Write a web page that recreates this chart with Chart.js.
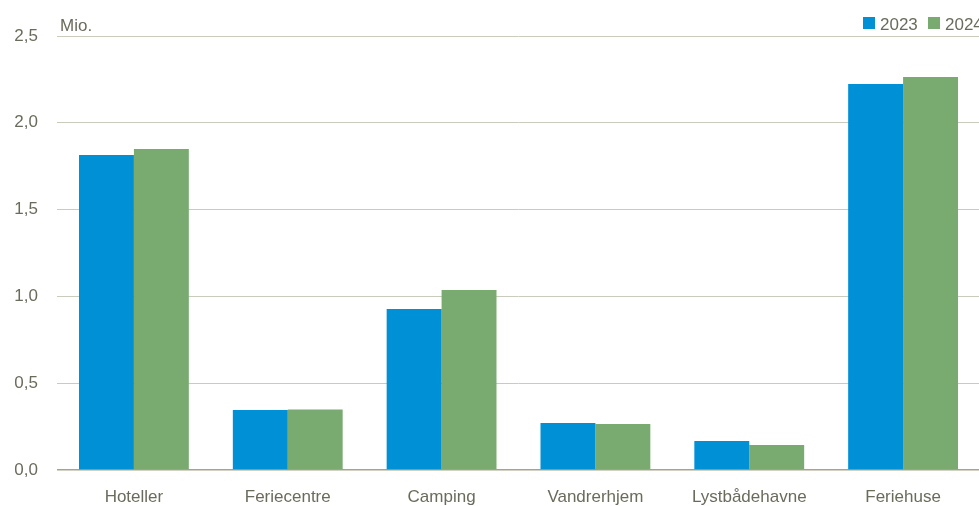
<!DOCTYPE html>
<html lang="da">
<head>
  <meta charset="UTF-8" />
  <title>Overnatninger</title>
  <script src="https://cdn.jsdelivr.net/npm/chart.js"></script>
  <style>
    html, body {
      margin: 0;
      padding: 0;
      background: #fff;
      overflow: hidden;
    }
    #wrap {
      width: 980px;
      height: 506px;
    }
  </style>
</head>
<body>
  <div id="wrap"><canvas id="chart"></canvas></div>

  <script>
    const categories = ["Hoteller", "Feriecentre", "Camping", "Vandrerhjem", "Lystbådehavne", "Feriehuse"];
    const values2023 = [1.815, 0.346, 0.927, 0.271, 0.167, 2.223];
    const values2024 = [1.849, 0.349, 1.037, 0.265, 0.144, 2.264];
    const seriesLabels = ["2023", "2024"];
    const unitLabel = "Mio.";

    const blue = "#0090d5";
    const green = "#79ab70";
    const textColor = "#6b6b5d";
    const fontFamily = "'Liberation Sans Narrow', 'Arial Narrow', 'Liberation Sans', Arial, sans-serif";

    // Unit label and legend drawn on top of the plot
    const extras = {
      id: "extras",
      afterDraw(chart) {
        const ctx = chart.ctx;
        const area = chart.chartArea;
        ctx.save();
        ctx.font = "17px " + fontFamily;
        ctx.fillStyle = textColor;
        ctx.textBaseline = "alphabetic";
        ctx.textAlign = "left";
        ctx.fillText(unitLabel, area.left + 3, area.top - 5);

        const colors = [blue, green];
        let x = 863;
        seriesLabels.forEach((label, i) => {
          ctx.fillStyle = colors[i];
          ctx.fillRect(x, 17, 12, 12);
          ctx.fillStyle = textColor;
          ctx.fillText(label, x + 17, 30);
          x += 65;
        });
        ctx.restore();
      }
    };

    new Chart(document.getElementById("chart"), {
      type: "bar",
      data: {
        labels: categories,
        datasets: [
          { label: seriesLabels[0], data: values2023, backgroundColor: blue },
          { label: seriesLabels[1], data: values2024, backgroundColor: green }
        ]
      },
      options: {
        responsive: true,
        maintainAspectRatio: false,
        animation: false,
        layout: { padding: { top: 36, right: 0, left: 0, bottom: 0 } },
        datasets: {
          bar: { categoryPercentage: 0.714, barPercentage: 1.0 }
        },
        plugins: {
          legend: { display: false },
          tooltip: { enabled: false }
        },
        scales: {
          x: {
            grid: { display: false },
            border: { display: false },
            ticks: {
              color: textColor,
              font: { family: fontFamily, size: 17 },
              padding: 9,
              maxRotation: 0
            },
            afterFit(scale) { scale.height = 36; }
          },
          y: {
            min: 0,
            max: 2.5,
            grid: {
              drawTicks: false,
              color: ctx => ctx.tick && ctx.tick.value === 0 ? "#a3a38e" : "#cbcbbd",
              lineWidth: ctx => ctx.tick && ctx.tick.value === 0 ? 1.5 : 1
            },
            border: { display: false },
            ticks: {
              stepSize: 0.5,
              color: textColor,
              font: { family: fontFamily, size: 17 },
              padding: 19,
              callback: v => v.toFixed(1).replace(".", ",")
            },
            afterFit(scale) { scale.width = 57; }
          }
        }
      },
      plugins: [extras]
    });
  </script>
</body>
</html>
